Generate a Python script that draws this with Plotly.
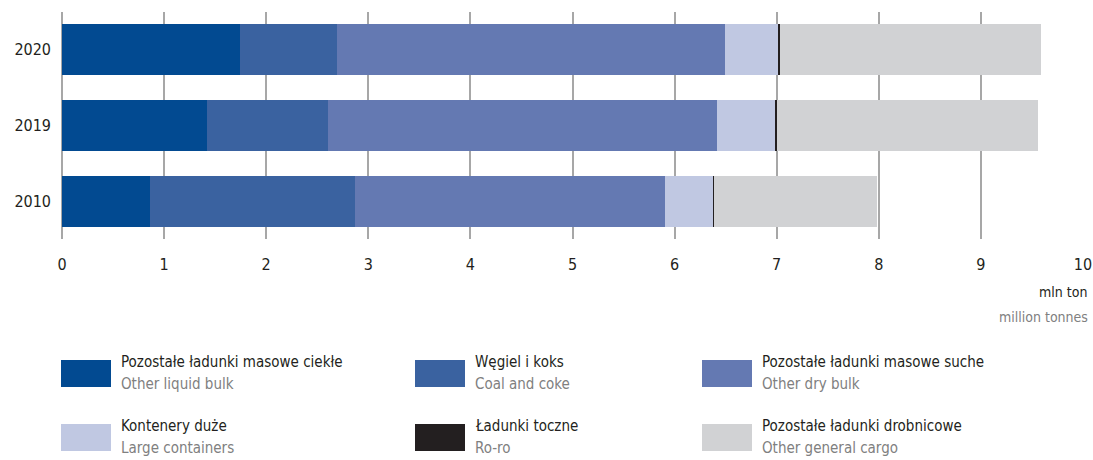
import plotly.graph_objects as go

# DATA (mln ton)
years = ["2010", "2019", "2020"]
cargo_pl = ["Pozostałe ładunki masowe ciekłe", "Węgiel i koks", "Pozostałe ładunki masowe suche",
            "Kontenery duże", "Ładunki toczne", "Pozostałe ładunki drobnicowe"]
cargo_en = ["Other liquid bulk", "Coal and coke", "Other dry bulk",
            "Large containers", "Ro-ro", "Other general cargo"]
liquid_bulk = [0.86, 1.42, 1.74]
coal_coke = [2.01, 1.19, 0.95]
dry_bulk = [3.04, 3.81, 3.80]
containers = [0.47, 0.56, 0.53]
roro = [0.01, 0.02, 0.01]
general_cargo = [1.59, 2.56, 2.56]
series = [liquid_bulk, coal_coke, dry_bulk, containers, roro, general_cargo]
colors = ["#024a91", "#3a62a0", "#6479b2", "#c0c8e2", "#231f20", "#d1d2d4"]

FONT = "Liberation Sans Narrow, DejaVu Sans Condensed, Arial Narrow, sans-serif"

fig = go.Figure()
for name, vals, col in zip(cargo_pl, series, colors):
    fig.add_trace(go.Bar(
        y=years, x=vals, name=name, orientation="h",
        marker=dict(color=col, line=dict(width=0)),
        showlegend=False
    ))

# plot area in pixels
L, R, T, B = 62, 1083, 12, 239
W, H = 1093, 460

def px_x(p):
    return (p - L) / (R - L)

def px_y(p):
    return (B - p) / (B - T)

# custom legend: 3 columns x 2 rows
col_left = [61, 415, 702]
row_top = [360, 424]
for i, (pl, en, col) in enumerate(zip(cargo_pl, cargo_en, colors)):
    r, c = divmod(i, 3)
    x0, y0 = col_left[c], row_top[r]
    fig.add_shape(type="rect", xref="paper", yref="paper",
                  x0=px_x(x0), x1=px_x(x0 + 50), y0=px_y(y0), y1=px_y(y0 + 27),
                  fillcolor=col, line=dict(width=0))
    fig.add_annotation(xref="paper", yref="paper", x=px_x(x0 + 58), y=px_y(y0 + 2),
                       text=pl, showarrow=False, xanchor="left", yanchor="middle",
                       font=dict(family=FONT, size=15, color="#231f20"))
    fig.add_annotation(xref="paper", yref="paper", x=px_x(x0 + 58), y=px_y(y0 + 24),
                       text=en, showarrow=False, xanchor="left", yanchor="middle",
                       font=dict(family=FONT, size=15, color="#808080"))

# axis unit label
fig.add_annotation(xref="paper", yref="paper", x=px_x(1089), y=px_y(292), text="mln ton",
                   showarrow=False, xanchor="right", yanchor="middle",
                   font=dict(family=FONT, size=14, color="#231f20"))
fig.add_annotation(xref="paper", yref="paper", x=px_x(1090), y=px_y(317), text="million tonnes",
                   showarrow=False, xanchor="right", yanchor="middle",
                   font=dict(family=FONT, size=14, color="#808080"))

fig.update_layout(
    barmode="stack",
    bargap=0.325,
    width=W, height=H,
    margin=dict(l=L, r=W - R, t=T, b=H - B, autoexpand=False),
    plot_bgcolor="white", paper_bgcolor="white",
    font=dict(family=FONT, size=16, color="#231f20"),
)
fig.update_xaxes(range=[0, 10], dtick=1, showgrid=True, gridcolor="#a7a7a7", gridwidth=1.5,
                 zeroline=True, zerolinecolor="#a7a7a7", zerolinewidth=1.5,
                 ticks="", ticklabelstandoff=14, showline=False,
                 tickfont=dict(family=FONT, size=16, color="#231f20"))
fig.update_yaxes(ticks="", showgrid=False, ticklabelstandoff=10,
                 tickfont=dict(family=FONT, size=16, color="#231f20"))

fig.write_html("out.html", config={"displayModeBar": False},
               post_script="document.body.style.margin='0';")
